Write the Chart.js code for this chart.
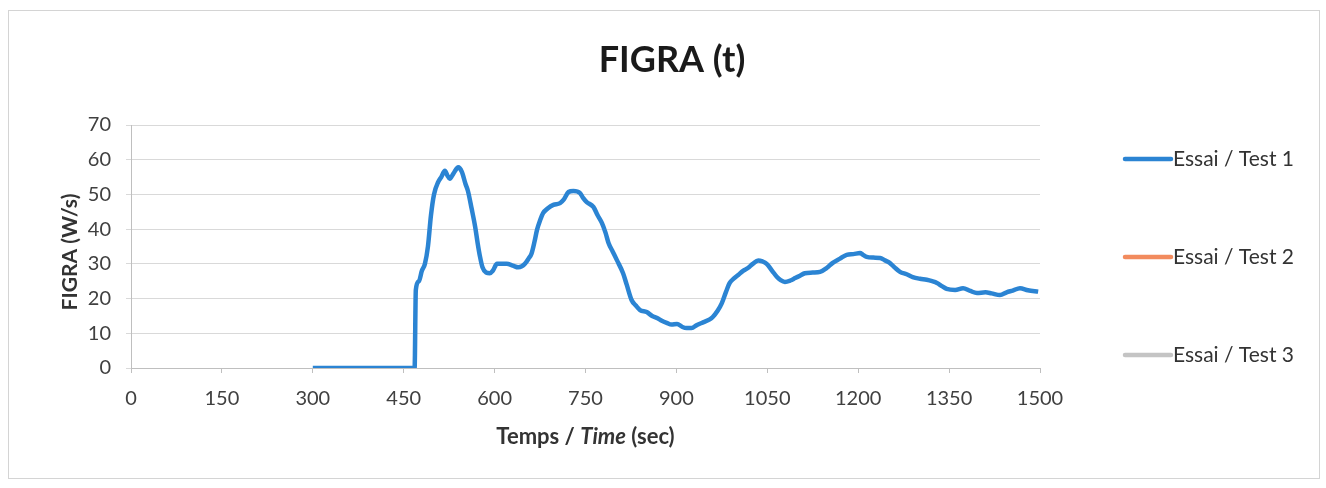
<!DOCTYPE html>
<html>
<head>
<meta charset="utf-8">
<script src="https://cdn.jsdelivr.net/npm/chart.js@4"></script>
<style>
html,body{margin:0;padding:0;background:#fff;}
#wrap{position:relative;width:1326px;height:488px;}
</style>
</head>
<body>
<div id="wrap"><canvas id="c" width="1326" height="488"></canvas></div>
<script>
const chartTitle = "FIGRA (t)";
const yAxisTitle = "FIGRA (W/s)";
const seriesNames = ["Essai / Test 1", "Essai / Test 2", "Essai / Test 3"];
const seriesColors = ["#2b84d3", "#f28b5e", "#c4c4c4"];
const xTicksMin = 0, xTicksMax = 1500, xStep = 150;
const yTicksMin = 0, yTicksMax = 70, yStep = 10;

const time1 = [300,468,470,475,480,485,490,495,500,507,512,518,522,526,532,540,546,552,556,562,568,572,576,580,586,592,597,604,612,620,630,639,645,650,656,661,666,670,675,680,688,697,708,714,722,730,741,746,752,763,770,777,783,788,795,802,812,818,826,833,840,851,860,868,876,884,892,901,910,917,925,934,945,955,960,968,975,982,988,995,1002,1010,1018,1026,1035,1042,1049,1058,1066,1072,1079,1088,1096,1104,1112,1125,1137,1148,1158,1170,1181,1192,1203,1208,1214,1225,1236,1244,1252,1260,1269,1280,1290,1302,1313,1322,1330,1338,1346,1360,1373,1385,1396,1410,1420,1434,1445,1455,1467,1480,1497];
const figra1 = [0,0,22.5,25,28,30,35,44,50,53.6,55,56.8,55.5,54.5,56,57.8,56.5,53,51,46,40.6,36,32,29,27.5,27.3,28,30,30,30,29.5,29,29.3,30,31.5,33,36.5,39.8,42.5,44.6,46,47,47.5,48.5,50.7,51,50.4,49,47.8,46.4,44,41.8,39,36,33.5,31,27.3,24,19.6,18,16.7,16.1,15,14.4,13.6,13,12.5,12.7,11.8,11.5,11.5,12.4,13.2,14,14.7,16.5,18.7,22,24.5,25.8,26.8,28,28.8,30,31,30.7,30,28,26.2,25.3,24.8,25.2,25.9,26.6,27.3,27.5,27.7,28.8,30.3,31.5,32.6,32.8,33.1,32.6,32,31.8,31.7,31,30.3,29,27.7,27,26.2,25.7,25.4,25,24.5,23.6,22.8,22.5,23,22.2,21.6,21.8,21.5,21,21.8,22.3,23,22.4,22];
const time2 = [];
const figra2 = [];
const time3 = [];
const figra3 = [];

const FONT = "Lato, 'Open Sans', sans-serif";

function pts(t, v){ return t.map((x,i)=>({x:x, y:v[i]})); }

const decor = {
  id:'decor',
  beforeDraw(chart){
    const ctx = chart.ctx;
    ctx.save();
    ctx.fillStyle = '#fff';
    ctx.fillRect(0,0,chart.width,chart.height);
    ctx.strokeStyle = '#d4d4d4';
    ctx.lineWidth = 1;
    ctx.strokeRect(8.5,10.5,1311,468);
    ctx.restore();
  },
  afterDraw(chart){
    const ctx = chart.ctx;
    const ca = chart.chartArea;
    ctx.save();
    ctx.fillStyle = '#1a1a1a';
    ctx.font = "bold 36px " + FONT;
    ctx.textAlign = 'center';
    ctx.textBaseline = 'middle';
    ctx.fillText(chartTitle, 672, 60);
    ctx.save();
    ctx.translate(70, 252);
    ctx.rotate(-Math.PI/2);
    ctx.font = "bold 21px " + FONT;
    ctx.fillStyle = '#333333';
    ctx.fillText(yAxisTitle, 0, 0);
    ctx.restore();
    const parts = [["Temps / ", "bold 22px "], ["Time", "italic bold 22px "], [" (sec)", "bold 22px "]];
    let total = 0;
    parts.forEach(p=>{ ctx.font = p[1]+FONT; total += ctx.measureText(p[0]).width; });
    let x = (ca.left+ca.right)/2 - total/2;
    ctx.textAlign = 'left';
    ctx.fillStyle = '#333333';
    parts.forEach(p=>{ ctx.font = p[1]+FONT; ctx.fillText(p[0], x, 437); x += ctx.measureText(p[0]).width; });
    const ly = [159, 257, 355];
    chart.data.datasets.forEach((ds,i)=>{
      ctx.strokeStyle = ds.borderColor;
      ctx.lineWidth = 4.5;
      ctx.lineCap = 'round';
      ctx.beginPath();
      ctx.moveTo(1125, ly[i]);
      ctx.lineTo(1171, ly[i]);
      ctx.stroke();
      ctx.font = "21px " + FONT;
      ctx.fillStyle = '#333333';
      ctx.textBaseline = 'middle';
      ctx.fillText(ds.label, 1173, ly[i]);
    });
    ctx.restore();
  }
};

new Chart(document.getElementById('c'), {
  type: 'line',
  data: {
    datasets: [
      {label: seriesNames[0], data: pts(time1, figra1), borderColor: seriesColors[0], borderWidth: 4.5, pointRadius: 0, cubicInterpolationMode: 'monotone', fill:false},
      {label: seriesNames[1], data: pts(time2, figra2), borderColor: seriesColors[1], borderWidth: 4.5, pointRadius: 0, fill:false},
      {label: seriesNames[2], data: pts(time3, figra3), borderColor: seriesColors[2], borderWidth: 4.5, pointRadius: 0, fill:false}
    ]
  },
  options: {
    responsive: false,
    animation: false,
    layout: {padding: {left: 0, right: 286, top: 125, bottom: 0}},
    plugins: {legend: {display: false}, title: {display: false}, tooltip: {enabled: false}},
    scales: {
      x: {
        type: 'linear', min: xTicksMin, max: xTicksMax,
        afterFit: s => { s.height = 120; },
        ticks: {stepSize: xStep, color: '#404040', font: {family: FONT, size: 20}, padding: 14, maxRotation: 0,
                callback: v => String(v)},
        grid: {drawOnChartArea: false, drawTicks: true, tickLength: 5, color: '#bfbfbf'},
        border: {color: '#bfbfbf'}
      },
      y: {
        min: yTicksMin, max: yTicksMax,
        afterFit: s => { s.width = 131; },
        ticks: {stepSize: yStep, color: '#404040', font: {family: FONT, size: 20}, padding: 15,
                callback: v => String(v)},
        grid: {color: '#d9d9d9', tickLength: 5},
        border: {color: '#bfbfbf'}
      }
    }
  },
  plugins: [decor]
});
</script>
</body>
</html>
